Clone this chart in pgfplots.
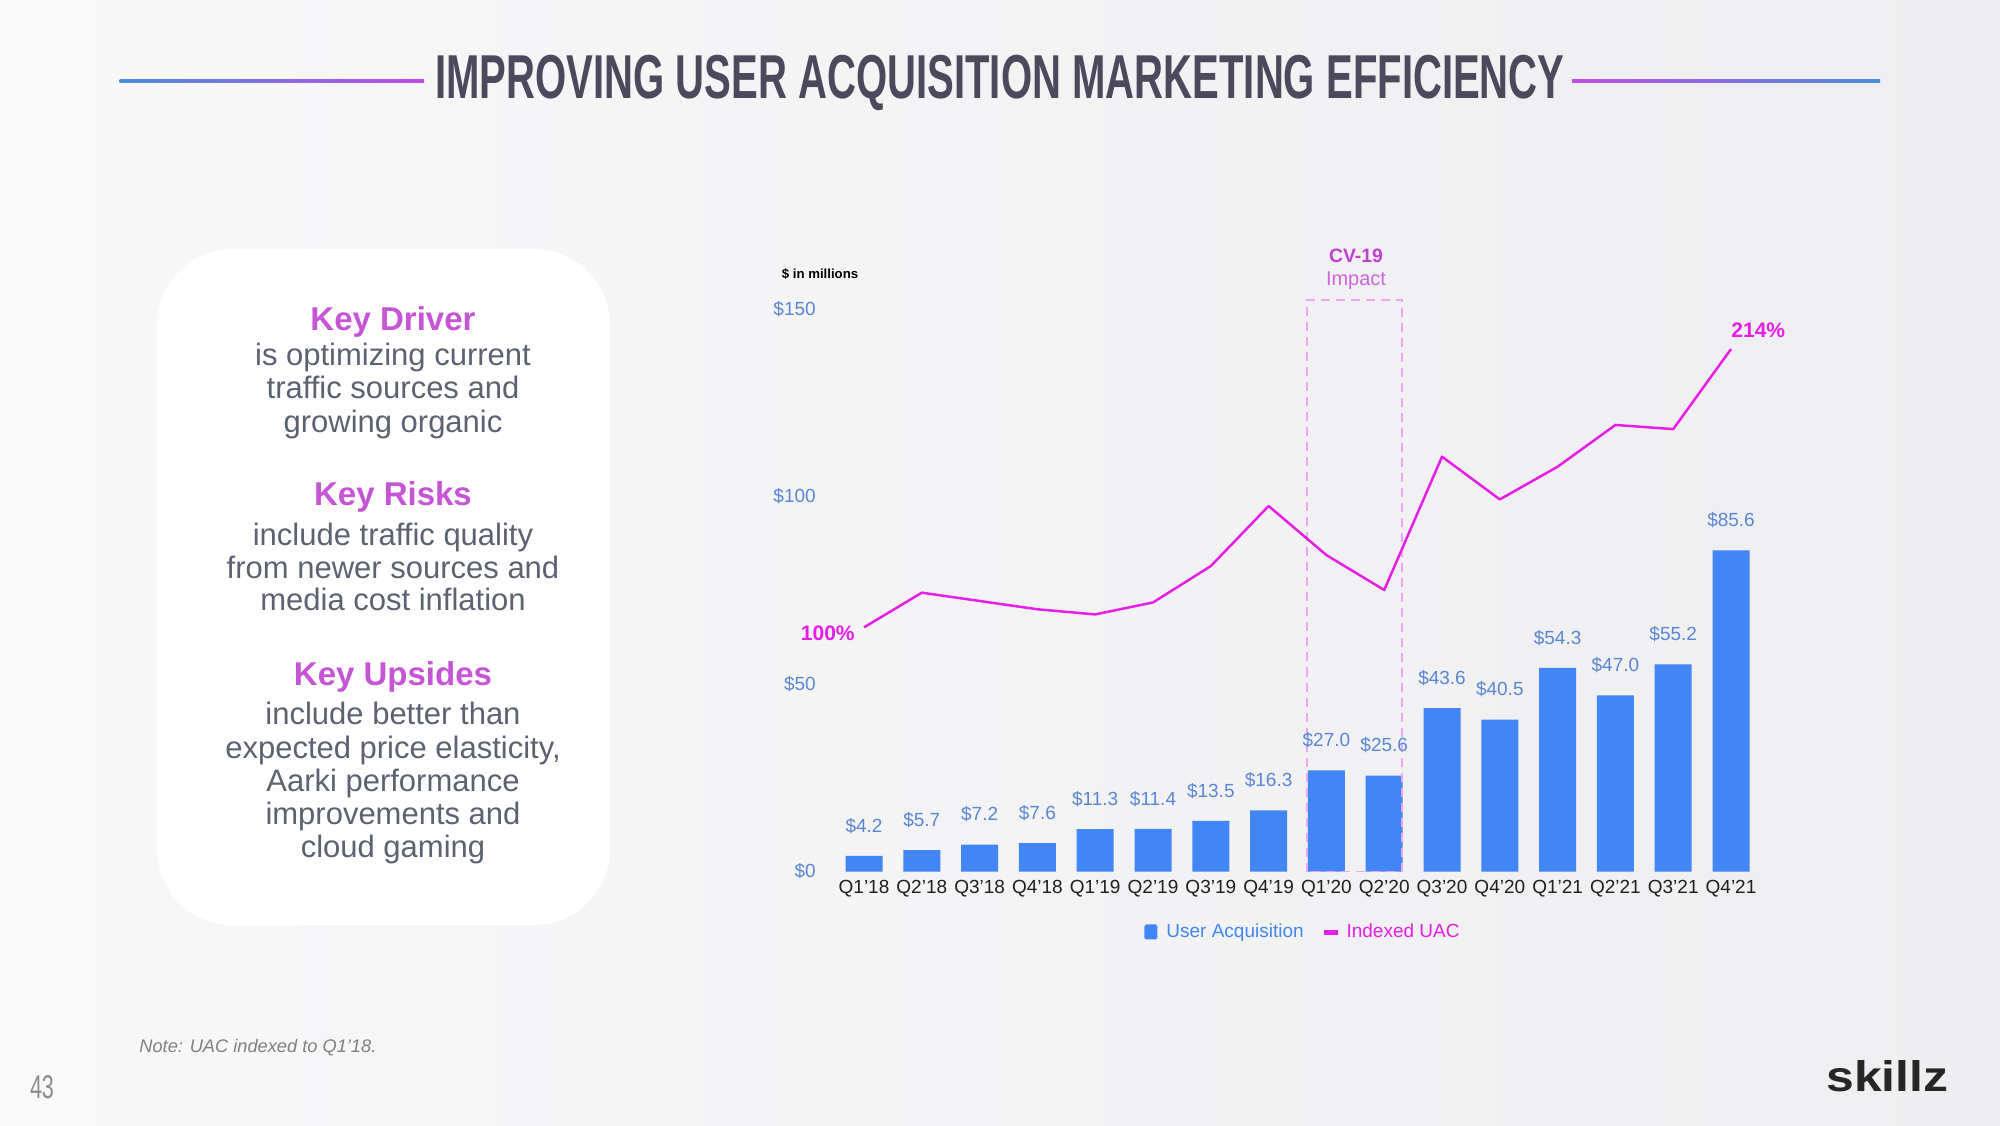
\documentclass[border=0pt]{standalone}
\usepackage{fontspec}
\setmainfont{Liberation Sans}
\usepackage{pgfplots}
\pgfplotsset{compat=1.18}
\usepackage{graphicx}
\definecolor{barblue}{HTML}{4285F4}
\definecolor{labblue}{HTML}{5A86D6}
\definecolor{linemag}{HTML}{E61EE6}
\definecolor{headmag}{HTML}{C655D6}
\definecolor{bodygray}{HTML}{5C6270}
\definecolor{titlegray}{HTML}{4A4A5C}
\definecolor{lineblue}{HTML}{4A8FD9}
\definecolor{linepurp}{HTML}{C04EE0}
\definecolor{boxpink}{HTML}{EEA6F0}
\definecolor{cvmag}{HTML}{C040D0}
\definecolor{bg1}{HTML}{F8F8F9}
\definecolor{bg2}{HTML}{EEEEF0}
\newcommand\headline[2]{\node[anchor=base, inner sep=0pt, text=headmag, font=\bfseries\fontsize{16.5}{18}\selectfont] at (196.5pt,#1pt) {#2};}
\newcommand\bline[2]{\node[anchor=base, inner sep=0pt, text=bodygray, font=\fontsize{15.5}{17}\selectfont] at (196.5pt,#1pt) {#2};}
\begin{document}
\begin{tikzpicture}
\shade[left color=bg1, right color=bg2] (0pt,0pt) rectangle (1000pt,562.5pt);
% title
\shade[left color=lineblue, right color=linepurp] (59.75pt,521.2pt) rectangle (212pt,522.8pt);
\shade[left color=linepurp, right color=lineblue] (786pt,521.2pt) rectangle (940pt,522.8pt);
\node[anchor=base west, inner sep=0pt, text=titlegray] at (217.5pt,513.35pt) {\resizebox{564.5pt}{21.65pt}{\bfseries IMPROVING USER ACQUISITION MARKETING EFFICIENCY}};
% left box
\fill[white, rounded corners=38pt] (78.5pt,100pt) rectangle (305pt,438pt);
\headline{397}{Key Driver}
\bline{379.5}{is optimizing current}
\bline{363}{traffic sources and}
\bline{346.25}{growing organic}
\headline{309.5}{Key Risks}
\bline{289.5}{include traffic quality}
\bline{273}{from newer sources and}
\bline{257}{media cost inflation}
\headline{219.5}{Key Upsides}
\bline{200.25}{include better than}
\bline{183.5}{expected price elasticity,}
\bline{167}{Aarki performance}
\bline{150.5}{improvements and}
\bline{134}{cloud gaming}
% footer
\node[anchor=west, inner sep=0pt, text=black!50] at (69.5pt,38.5pt) {\resizebox{118.5pt}{!}{\itshape Note: UAC indexed to Q1’18.}};
\node[inner sep=0pt, text=black!45] at (21pt,19pt) {\resizebox{12pt}{11.5pt}{43}};
\node[anchor=base west, inner sep=0pt, text=black!85] at (913pt,17pt) {\resizebox{61pt}{15.5pt}{\bfseries skillz}};
% chart annotations
\node[font=\bfseries\fontsize{6.6}{8}\selectfont] at (410pt,425.5pt) {\$ in millions};
\node[font=\bfseries\fontsize{9.7}{11}\selectfont, text=cvmag] at (678pt,434.5pt) {CV-19};
\node[font=\fontsize{10}{12}\selectfont, text=cvmag!80] at (678pt,422pt) {Impact};
\begin{axis}[
  at={(417.55pt,126.75pt)}, anchor=south west,
  scale only axis, width=462.4pt, height=281.25pt,
  xmin=-0.5, xmax=15.5, ymin=0, ymax=150,
  axis line style={draw=none}, major tick length=0pt,
  xtick={0,...,15},
  xticklabels={Q1'18,Q2'18,Q3'18,Q4'18,Q1'19,Q2'19,Q3'19,Q4'19,Q1'20,Q2'20,Q3'20,Q4'20,Q1'21,Q2'21,Q3'21,Q4'21},
  ytick={0,50,100,150},
  yticklabel={\$\pgfmathprintnumber[fixed,precision=0]{\tick}},
  /pgf/number format/assume math mode=true,
  ticklabel style={font=\fontsize{9.5}{11}\selectfont, inner sep=0pt},
  yticklabel style={text=labblue, anchor=east, xshift=-9.5pt},
  xticklabel style={text=black!88, anchor=center, yshift=-8.75pt},
  clip=false,
  ybar, bar width=18.5pt,
  nodes near coords={\$\pgfmathprintnumber[fixed,fixed zerofill,precision=1]{\pgfplotspointmeta}},
  nodes near coords style={font=\fontsize{9.5}{11}\selectfont, text=labblue, anchor=center, yshift=15pt, inner sep=0pt},
  legend columns=2,
  legend style={at={(0.507,-0.1075)}, anchor=center, draw=none, fill=none, font=\fontsize{9.5}{11}\selectfont, /tikz/every even column/.append style={column sep=8pt}},
]
\addplot[fill=barblue, draw=none, legend image code/.code={\fill[barblue, rounded corners=0.8pt] (0pt,-3.75pt) rectangle (6.5pt,3.75pt);}] coordinates {
(0,4.2) (1,5.7) (2,7.2) (3,7.6) (4,11.3) (5,11.4) (6,13.5) (7,16.3)
(8,27.0) (9,25.6) (10,43.6) (11,40.5) (12,54.3) (13,47.0) (14,55.2) (15,85.6)};
\addlegendentry{\hspace{2.5pt}\textcolor{barblue}{User Acquisition}}
\addlegendimage{legend image code/.code={\fill[linemag] (0pt,-1pt) rectangle (6.5pt,1pt);}}
\addlegendentry{\hspace{2.5pt}\textcolor{linemag}{Indexed UAC}}
\draw[boxpink, line width=0.75pt, dash pattern=on 4.5pt off 3pt] (axis cs:7.664,0) rectangle (axis cs:9.308,152.4);
\end{axis}
\begin{axis}[
  at={(417.55pt,126.75pt)}, anchor=south west,
  scale only axis, width=462.4pt, height=281.25pt,
  xmin=-0.5, xmax=15.5, ymin=0, ymax=230.4,
  hide axis, clip=false,
]
\addplot[linemag, line width=1.25pt, mark=none, line join=round] coordinates {
(0,100) (1,114.2) (2,110.8) (3,107.4) (4,105.3) (5,110.2) (6,125.1) (7,149.7)
(8,129.6) (9,115.3) (10,169.9) (11,152.4) (12,165.8) (13,182.9) (14,181.2) (15,214)};
\node[anchor=east, inner sep=0pt, text=linemag, font=\bfseries\fontsize{10.5}{12}\selectfont, xshift=-4.5pt, yshift=-3pt] at (axis cs:0,100) {100\%};
\node[anchor=west, inner sep=0pt, text=linemag, font=\bfseries\fontsize{10.5}{12}\selectfont, yshift=9.5pt] at (axis cs:15,214) {214\%};
\end{axis}
\pgfresetboundingbox
\useasboundingbox (0pt,0pt) rectangle (1000pt,562.5pt);
\end{tikzpicture}
\end{document}
